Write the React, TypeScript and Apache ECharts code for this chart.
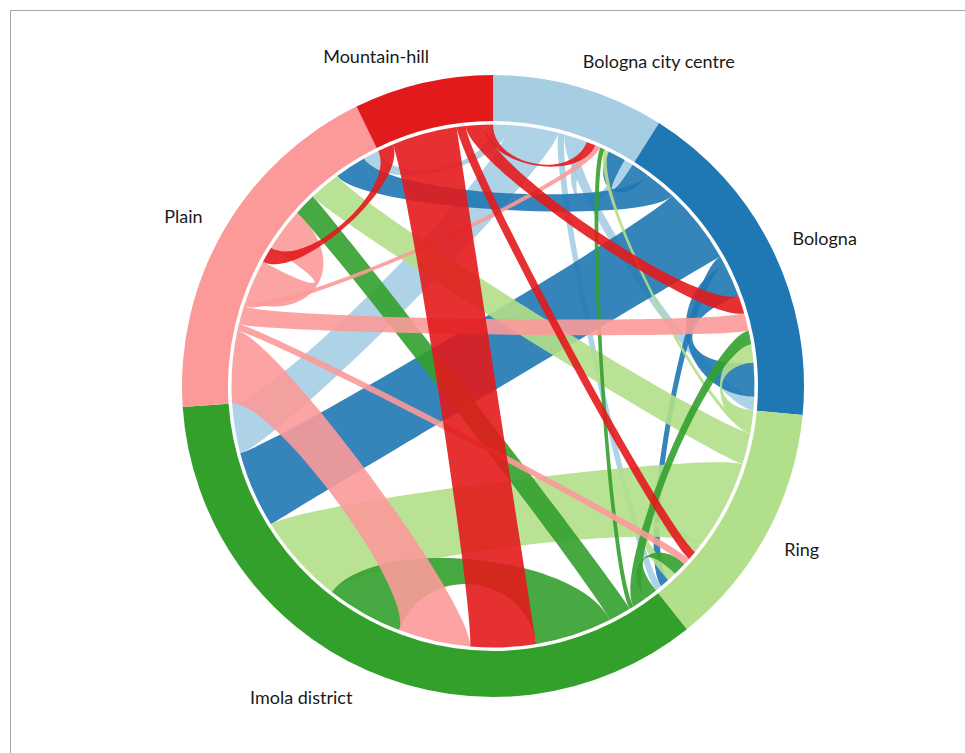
import React, { useEffect, useRef } from 'react';
import * as echarts from 'echarts';

// Groups in clockwise order starting at 12 o'clock
const groups = ['Bologna city centre', 'Bologna', 'Ring', 'Imola district', 'Plain', 'Mountain-hill'];
const groupColors = ['#a6cee3', '#1f78b4', '#b2df8a', '#33a02c', '#fb9a99', '#e31a1c'];

// Flows: row = origin, column = destination (same group order as above)
const fromBolognaCityCentre = [2, 3, 1.5, 11, 3.5, 0];
const fromBologna = [4, 7.5, 2, 17, 7, 0];
const fromRing = [1, 4, 2, 20, 7, 0];
const fromImola = [1, 3, 3, 17, 5, 0];
const fromPlain = [1.2, 4, 1.5, 16, 9.5, 0];
const fromMountainHill = [2, 4, 2, 14.5, 3.5, 0];
const flows = [fromBolognaCityCentre, fromBologna, fromRing, fromImola, fromPlain, fromMountainHill];

// Label placement (angle clockwise from top in degrees, radius in px)
const labelAngles = [27, 66, 117.8, 211.7, 298.7, 340.5];
const labelRadii = [365, 363, 349, 365, 353, 350];

const CX = 493;
const CY = 386;
const R_OUT = 311;
const R_IN = 265;
const R_RIB = 261.5;
const K_LINK = 0.84;
const K_SELF = 0.72;

const n = groups.length;
const totals = groups.map((_, i) => {
  let s = 0;
  for (let j = 0; j < n; j++) s += flows[i][j] + flows[j][i];
  return s;
});
const grand = totals.reduce((a, b) => a + b, 0);
const degPer = 360 / grand;

const groupArcs: number[][] = [];
{
  let st = 0;
  for (let i = 0; i < n; i++) {
    groupArcs.push([st, st + totals[i] * degPer]);
    st += totals[i] * degPer;
  }
}

const srcEnd: number[][][] = groups.map(() => groups.map(() => [0, 0]));
const tgtEnd: number[][][] = groups.map(() => groups.map(() => [0, 0]));
for (let i = 0; i < n; i++) {
  let pos = groupArcs[i][0];
  const outs = groups.map((_, j) => j).filter((j) => flows[i][j] > 0);
  outs.sort((x, y) => {
    const kx = x === i ? -1 : (x - i + n) % n;
    const ky = y === i ? -1 : (y - i + n) % n;
    return ky - kx;
  });
  for (const j of outs) {
    const w = flows[i][j] * degPer;
    srcEnd[i][j] = [pos, pos + w];
    pos += w;
  }
  const ins = groups.map((_, j) => j).filter((j) => flows[j][i] > 0);
  ins.sort((x, y) => y - x);
  for (const j of ins) {
    const w = flows[j][i] * degPer;
    tgtEnd[j][i] = [pos, pos + w];
    pos += w;
  }
}

const ribbons: { i: number; j: number }[] = [];
for (let i = 0; i < n; i++) {
  for (let j = 0; j < n; j++) {
    if (flows[i][j] > 0) ribbons.push({ i, j });
  }
}

function pt(deg: number, r: number) {
  const t = (deg * Math.PI) / 180;
  return [CX + r * Math.sin(t), CY - r * Math.cos(t)];
}
function f(p: number[]) {
  return p[0].toFixed(2) + ' ' + p[1].toFixed(2);
}
function ribbonPath(s: number[], t: number[], k: number) {
  const [a0, a1] = s;
  const [b0, b1] = t;
  const R = R_RIB;
  const kR = R * k;
  return (
    `M${f(pt(a0, R))} A${R} ${R} 0 ${a1 - a0 > 180 ? 1 : 0} 1 ${f(pt(a1, R))} ` +
    `C${f(pt(a1, kR))} ${f(pt(b0, kR))} ${f(pt(b0, R))} ` +
    `A${R} ${R} 0 ${b1 - b0 > 180 ? 1 : 0} 1 ${f(pt(b1, R))} ` +
    `C${f(pt(b1, kR))} ${f(pt(a0, kR))} ${f(pt(a0, R))} Z`
  );
}
function sectorPath(a0: number, a1: number) {
  const large = a1 - a0 > 180 ? 1 : 0;
  return (
    `M${f(pt(a0, R_OUT))} A${R_OUT} ${R_OUT} 0 ${large} 1 ${f(pt(a1, R_OUT))} ` +
    `L${f(pt(a1, R_IN))} A${R_IN} ${R_IN} 0 ${large} 0 ${f(pt(a0, R_IN))} Z`
  );
}

export default function App() {
  const ref = useRef<HTMLDivElement>(null);
  useEffect(() => {
    if (!ref.current) return;
    const chart = echarts.init(ref.current, undefined, { renderer: 'svg' });
    const labelGraphics = groups.map((g, i) => {
      const p = pt(labelAngles[i], labelRadii[i]);
      return {
        type: 'text',
        x: p[0],
        y: p[1],
        style: {
          text: g,
          fill: '#1a1a1a',
          font: '18px Lato, "Open Sans", sans-serif',
          textAlign: 'center',
          textVerticalAlign: 'middle',
        },
        z: 10,
      };
    });
    chart.setOption({
      animation: false,
      backgroundColor: '#ffffff',
      graphic: [
        {
          type: 'rect',
          shape: { x: 10.5, y: 10.5, width: 980, height: 800 },
          style: { fill: 'none', stroke: '#a6a6a6', lineWidth: 1 },
          z: 0,
        },
        ...labelGraphics,
      ],
      series: [
        {
          type: 'custom',
          coordinateSystem: 'none',
          clip: false,
          data: ribbons.map((_, idx) => idx),
          renderItem: (params: any) => {
            const rb = ribbons[params.dataIndex];
            const k = rb.i === rb.j ? K_SELF : K_LINK;
            return {
              type: 'path',
              shape: { pathData: ribbonPath(srcEnd[rb.i][rb.j], tgtEnd[rb.i][rb.j], k) },
              style: { fill: groupColors[rb.i], opacity: 0.9 },
            };
          },
          z: 2,
        },
        {
          type: 'custom',
          coordinateSystem: 'none',
          clip: false,
          data: groups.map((_, idx) => idx),
          renderItem: (params: any) => {
            const i = params.dataIndex;
            return {
              type: 'path',
              shape: { pathData: sectorPath(groupArcs[i][0], groupArcs[i][1]) },
              style: { fill: groupColors[i] },
            };
          },
          z: 3,
        },
      ],
    });
    return () => chart.dispose();
  }, []);
  return (
    <div
      ref={ref}
      style={{ position: 'absolute', left: 0, top: 0, width: 965, height: 753 }}
    />
  );
}
